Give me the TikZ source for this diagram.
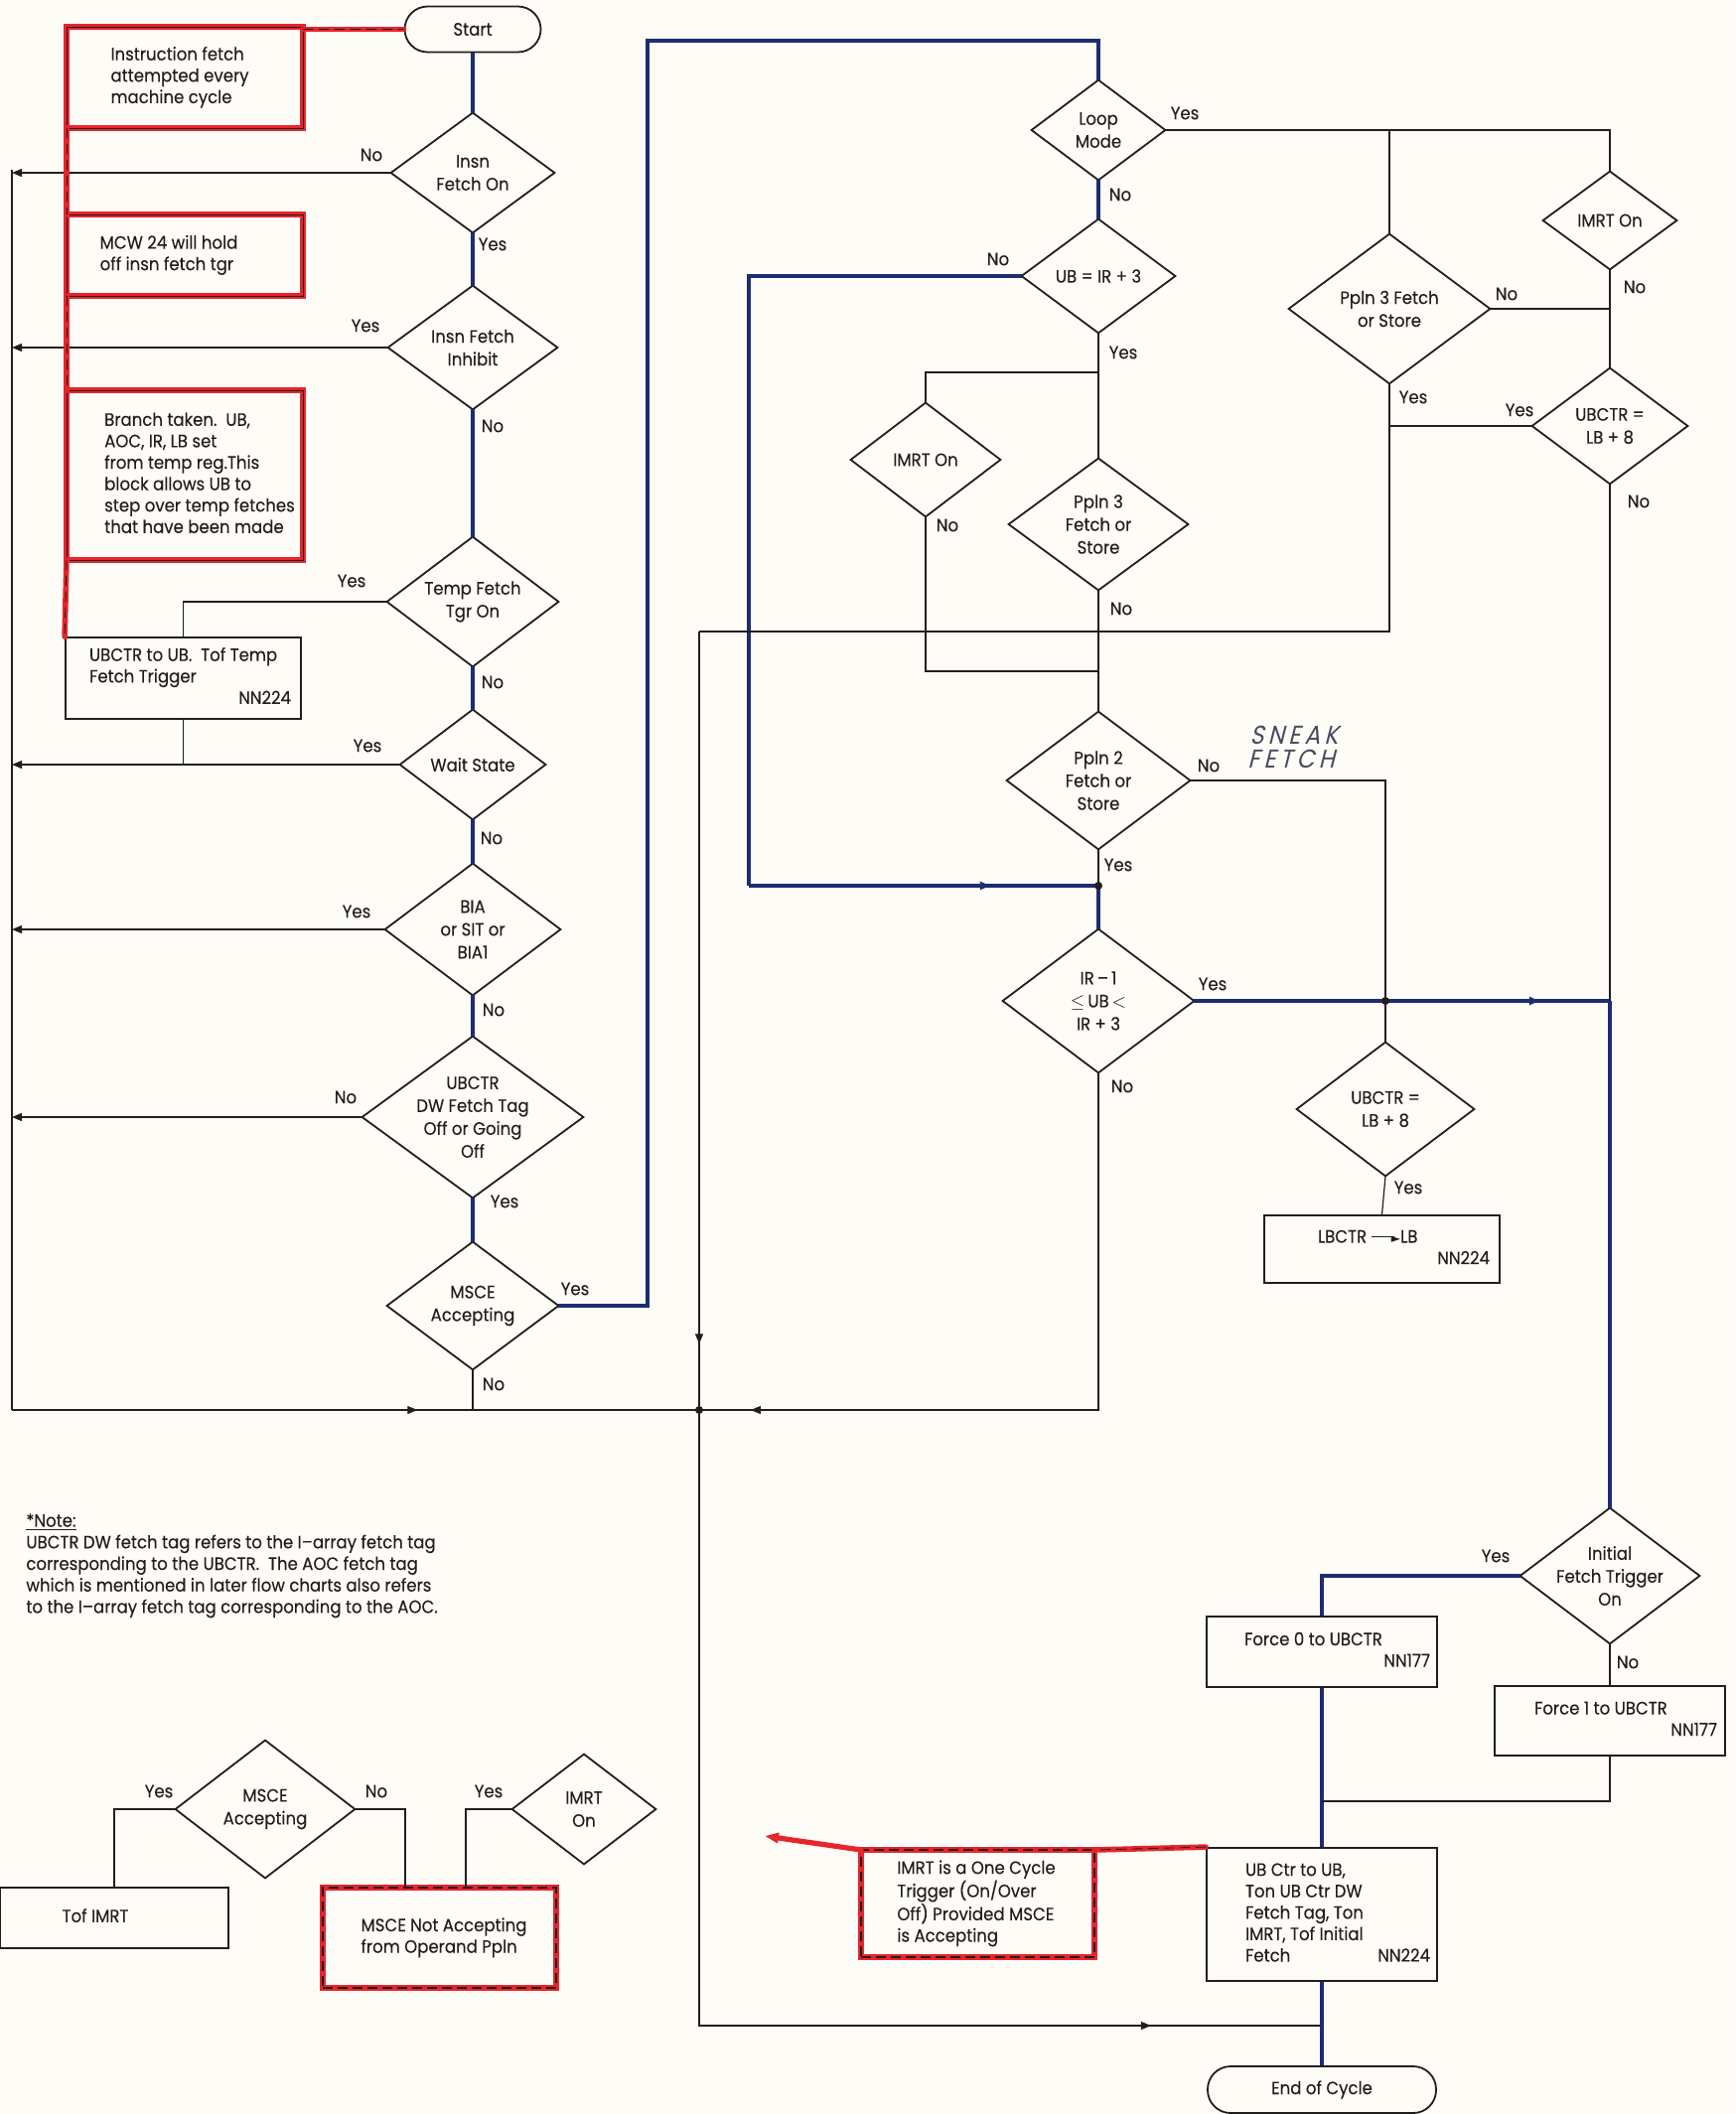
\documentclass[tikz,border=0pt]{standalone}
\usepackage{fontspec}
\setmainfont{Poppins}[FakeStretch=0.92, FakeBold=0.15]
\newfontfamily\symfont{DejaVu Sans}
\newfontfamily\handfont{Poppins}[FakeSlant=0.25, LetterSpace=16, FakeStretch=0.9]
\usetikzlibrary{arrows.meta,decorations.markings}

\definecolor{paper}{RGB}{253,252,246}
\definecolor{ink}{RGB}{34,30,30}
\definecolor{navy}{RGB}{30,44,112}
\definecolor{pencilred}{RGB}{232,36,44}
\definecolor{pencil}{RGB}{72,74,96}

% text block inside a box: shifted left-aligned lines
\newcommand\btxt[2]{\hspace*{#1}\begin{tabular}{@{}l@{}}#2\end{tabular}}
% diamond outline drawn on the anchors of a decision node
\newcommand\dout[1]{\draw[ink, line width=0.9pt, line join=miter] (#1.north) -- (#1.east) -- (#1.south) -- (#1.west) -- cycle;}
\newcommand\toarrow{\rule[0.32em]{1.3em}{0.5pt}\kern-1.5pt{\symfont\fontsize{6}{6}\selectfont ►}}

\tikzset{
  base/.style={font=\fontsize{9}{11.5}\selectfont, text=ink},
  boxfont/.style={font=\fontsize{9}{10.8}\selectfont},
  dia/.style={base, rectangle, inner sep=0pt, align=center},
  box/.style={base, boxfont, draw=ink, line width=0.9pt, rectangle, inner sep=0pt},
  term/.style={box, rounded corners=11.5pt},
  redbox/.style={base, boxfont, rectangle, inner sep=0pt, outer sep=0pt, draw=pencilred, line width=2.8pt,
    postaction={draw=ink, line width=0.45pt}},
  reddash/.style={base, boxfont, rectangle, inner sep=0pt, outer sep=0pt, draw=pencilred, line width=2.8pt,
    postaction={draw=ink, line width=0.55pt, dash pattern=on 5pt off 2.5pt}},
  redline/.style={draw=pencilred, line width=2.8pt, line cap=round,
    postaction={draw=ink, line width=0.45pt, dash pattern=on 5pt off 3pt}},
  redsolid/.style={draw=pencilred, line width=2.6pt, line cap=round},
  flow/.style={draw=ink, line width=0.6pt},
  main/.style={draw=navy, line width=1.6pt},
  lbl/.style={base, inner sep=0pt},
  midarrow/.style={postaction={decorate, decoration={markings,
    mark=at position #1 with {\arrow{Triangle[length=5pt,width=4pt]}}}}},
  hand/.style={inner sep=0pt, text=pencil, font=\handfont\fontsize{13}{13}\selectfont},
}

\begin{document}
\begin{tikzpicture}[x=0.5pt, y=-0.5pt, >={Triangle[length=5pt,width=4pt]}]
\fill[paper] (0,0) rectangle (1747,2129);
\useasboundingbox (0,0) rectangle (1747,2129);

% ---------- terminals ----------
\node[term, minimum width=68.5pt, minimum height=23pt] (start) at (476,29.5) {Start};
\node[term, minimum width=115pt, minimum height=23.5pt] (eoc) at (1331,2104.5) {End of Cycle};

% ---------- left column decisions ----------
\node[dia, minimum width=82pt, minimum height=60pt] (ifo) at (476,174) {Insn\\Fetch On};
\node[dia, minimum width=85pt, minimum height=62pt] (ifi) at (476,350) {Insn Fetch\\Inhibit};
\node[dia, minimum width=86pt, minimum height=65pt] (tft) at (476,606) {Temp Fetch\\Tgr On};
\node[dia, minimum width=73pt, minimum height=55pt] (ws) at (476,770) {Wait State};
\node[dia, minimum width=88pt, minimum height=66pt] (bia) at (476,936) {BIA\\or SIT or\\BIA1};
\node[dia, minimum width=111pt, minimum height=81pt] (dwf) at (476,1125) {UBCTR\\DW Fetch Tag\\Off or Going\\Off};
\node[dia, minimum width=86pt, minimum height=64pt] (msce) at (476,1315) {MSCE\\Accepting};

% ---------- middle column decisions ----------
\node[dia, minimum width=67pt, minimum height=50pt] (loop) at (1106,131) {Loop\\Mode};
\node[dia, minimum width=77pt, minimum height=57pt] (ubir) at (1106,278) {UB = IR + 3};
\node[dia, minimum width=75pt, minimum height=57pt] (imrtm) at (932,463) {IMRT On};
\node[dia, minimum width=90pt, minimum height=66pt] (ppl3m) at (1106,528) {Ppln 3\\Fetch or\\Store};
\node[dia, minimum width=92pt, minimum height=69pt] (ppl2) at (1106,786) {Ppln 2\\Fetch or\\Store};
\node[dia, minimum width=96pt, minimum height=72pt] (irm) at (1106,1008) {IR\,–\,1\\$\leq$\,UB\,$<$\\IR + 3};

% ---------- right column decisions ----------
\node[dia, minimum width=101pt, minimum height=75pt] (ppl3r) at (1399,311) {Ppln 3 Fetch\\or Store};
\node[dia, minimum width=67pt, minimum height=49pt] (imrtr) at (1621,222) {IMRT On};
\node[dia, minimum width=78pt, minimum height=58pt] (ubu) at (1621,429) {UBCTR =\\LB + 8};
\node[dia, minimum width=89pt, minimum height=67pt] (ubl) at (1395,1117) {UBCTR =\\LB + 8};
\node[dia, minimum width=90pt, minimum height=68pt] (ift) at (1621,1587) {Initial\\Fetch Trigger\\On};

% ---------- small key diagram ----------
\node[dia, minimum width=90pt, minimum height=69pt] (smsce) at (267,1822) {MSCE\\Accepting};
\node[dia, minimum width=72pt, minimum height=55pt] (simrt) at (588,1822) {IMRT\\On};

\foreach \n in {ifo,ifi,tft,ws,bia,dwf,msce,loop,ubir,imrtm,ppl3m,ppl2,irm,ppl3r,imrtr,ubu,ubl,ift,smsce,simrt}
  {\dout{\n}}

% ---------- process boxes ----------
\node[box, minimum width=118.5pt, minimum height=41pt] (ubx) at (184.5,683)
  {\btxt{7pt}{UBCTR to UB.\ \ Tof Temp\\Fetch Trigger\\\makebox[101.5pt][r]{NN224}}};
\node[box, minimum width=118.5pt, minimum height=34pt] (lbx) at (1391.5,1258)
  {\btxt{22pt}{LBCTR \toarrow LB\\\makebox[86.5pt][r]{NN224}}};
\node[box, minimum width=116pt, minimum height=35.5pt] (f0) at (1331,1663.5)
  {\btxt{15.5pt}{Force 0 to UBCTR\\\makebox[93.5pt][r]{NN177}}};
\node[box, minimum width=116pt, minimum height=35pt] (f1) at (1621,1733)
  {\btxt{16pt}{Force 1 to UBCTR\\\makebox[92pt][r]{NN177}}};
\node[box, minimum width=116pt, minimum height=67pt] (ubc) at (1331,1928)
  {\btxt{16pt}{UB Ctr to UB,\\Ton UB Ctr DW\\Fetch Tag, Ton\\IMRT, Tof Initial\\\makebox[93pt]{Fetch\hfill NN224}}};
\node[box, minimum width=115pt, minimum height=30.5pt] (tof) at (115,1931.5)
  {\btxt{-19pt}{Tof IMRT}};

% ---------- annotation boxes ----------
\node[redbox, minimum width=119pt, minimum height=51pt] (ifbox) at (186,78)
  {\btxt{-5pt}{Instruction fetch\\attempted every\\machine cycle}};
\node[redbox, minimum width=119pt, minimum height=41pt] (mcwbox) at (186,257)
  {\btxt{-16pt}{MCW 24 will hold\\off insn fetch tgr}};
\node[redbox, minimum width=119pt, minimum height=85.5pt] (brbox) at (186,478.5)
  {\btxt{15pt}{Branch taken.\ \ UB,\\AOC, IR, LB set\\from temp reg.This\\block allows UB to\\step over temp fetches\\that have been made}};
\node[reddash, minimum width=117.5pt, minimum height=54pt] (imrtbox) at (984.5,1917)
  {\btxt{-1.5pt}{IMRT is a One Cycle\\Trigger (On/Over\\Off) Provided MSCE\\is Accepting}};
\node[reddash, minimum width=117.5pt, minimum height=50.5pt] (msna) at (442.5,1951.5)
  {\btxt{4.5pt}{MSCE Not Accepting\\from Operand Ppln}};

% ---------- junctions and bends ----------
\coordinate (busT) at (12,171);
\coordinate (busB) at (12,1420);
\coordinate (jA) at (704,1420);
\coordinate (c1) at (652,41);
\coordinate (c2) at (754,892);
\coordinate (j1) at (1106,892);
\coordinate (j2) at (1106,375);
\coordinate (j3) at (1106,676);
\coordinate (c3) at (704,636);
\coordinate (j4) at (1395,1008);
\coordinate (c4) at (1621,1008);
\coordinate (j5) at (1331,2040);
\coordinate (j6) at (1399,131);
\coordinate (j7) at (1331,1814);
\coordinate (c5) at (408,1901);
\coordinate (c6) at (469,1901);
\coordinate (rtip) at (770,1849);

% ---------- left column flow ----------
\draw[main] (start.south) -- (ifo.north);
\draw[main] (ifo.south) -- (ifi.north);
\draw[main] (ifi.south) -- (tft.north);
\draw[main] (tft.south) -- (ws.north);
\draw[main] (ws.south) -- (bia.north);
\draw[main] (bia.south) -- (dwf.north);
\draw[main] (dwf.south) -- (msce.north);
\draw[flow] (msce.south) -- (msce.south |- jA);

\draw[flow] (busT) -- (busB);
\draw[flow, midarrow=0.59] (busB) -- (jA);
\draw[flow,->] (ifo.west) -- (ifo.west -| busT);
\draw[flow,->] (ifi.west) -- (ifi.west -| busT);
\draw[flow] (tft.west) -| (ubx.north);
\draw[flow] (ubx.south) -- (ubx.south |- ws.west);
\draw[flow,->] (ws.west) -- (ws.west -| busT);
\draw[flow,->] (bia.west) -- (bia.west -| busT);
\draw[flow,->] (dwf.west) -- (dwf.west -| busT);

% ---------- middle flow ----------
\draw[main] (msce.east) -| (c1) -| (loop.north);
\draw[main] (loop.south) -- (ubir.north);
\draw[main] (ubir.west) -| (c2);
\draw[main, midarrow=0.69] (c2) -- (j1);
\draw[main] (j1) -- (irm.north);
\draw[flow] (ppl2.south) -- (j1);
\draw[flow] (ubir.south) -- (ppl3m.north);
\draw[flow] (j2) -| (imrtm.north);
\draw[flow] (imrtm.south) |- (j3);
\draw[flow] (ppl3m.south) -- (ppl2.north);
\draw[flow] (ppl3r.south) |- (c3);
\draw[flow, midarrow=0.915] (c3) -- (jA);
\draw[flow, midarrow=0.93] (irm.south) |- (jA);
\draw[flow, midarrow=0.862] (jA) |- (j5);
\draw[flow] (ppl2.east) -| (j4);
\draw[flow] (j4) -- (ubl.north);
\draw[flow] (ubl.south) -- (lbx.north);
\draw[main, midarrow=0.83] (irm.east) -- (c4);
\draw[main] (c4) -- (ift.north);

% ---------- right flow ----------
\draw[flow] (loop.east) -| (imrtr.north);
\draw[flow] (j6) -- (ppl3r.north);
\draw[flow] (imrtr.south) -- (ubu.north);
\draw[flow] (ppl3r.east) -- (ppl3r.east -| ubu.north);
\draw[flow] (ubu.west) -- (ubu.west -| ppl3r.south);
\draw[flow] (ubu.south) -- (c4);
\draw[main] (ift.west) -| (f0.north);
\draw[flow] (ift.south) -- (f1.north);
\draw[main] (f0.south) -- (ubc.north);
\draw[flow] (f1.south) |- (j7);
\draw[main] (ubc.south) -- (eoc.north);

\foreach \p in {jA,j1,j4} {\fill[ink] (\p) circle[radius=2pt];}

% ---------- small key diagram flow ----------
\draw[flow] (smsce.west) -| (tof.north);
\draw[flow] (smsce.east) -| (c5);
\draw[flow] (simrt.west) -| (c6);

% ---------- red annotation links ----------
\draw[redline] (ifbox.north east |- start.west) -- (start.west);
\draw[redline] (ifbox.south west) -- (mcwbox.north west);
\draw[redline] (mcwbox.south west) -- (brbox.north west);
\draw[redline] (brbox.south west) -- (ubx.north west);
\draw[redline] (ubc.north west) -- (imrtbox.north east);
\draw[redsolid, -{Triangle[length=7pt,width=5pt]}] (imrtbox.north west) -- (rtip);

% ---------- branch labels ----------
\node[lbl] (l01) at (374,156) {No};
\node[lbl] (l02) at (496,246) {Yes};
\node[lbl] (l03) at (368,328) {Yes};
\node[lbl] (l04) at (496,429) {No};
\node[lbl] (l05) at (354,585) {Yes};
\node[lbl] (l06) at (496,687) {No};
\node[lbl] (l07) at (370,751) {Yes};
\node[lbl] (l08) at (495,844) {No};
\node[lbl] (l09) at (359,918) {Yes};
\node[lbl] (l10) at (497,1017) {No};
\node[lbl] (l11) at (348,1105) {No};
\node[lbl] (l12) at (508,1210) {Yes};
\node[lbl] (l13) at (579,1298) {Yes};
\node[lbl] (l14) at (497,1394) {No};
\node[lbl] (l15) at (1193,114) {Yes};
\node[lbl] (l16) at (1128,196) {No};
\node[lbl] (l17) at (1005,261) {No};
\node[lbl] (l18) at (1131,355) {Yes};
\node[lbl] (l19) at (954,529) {No};
\node[lbl] (l20) at (1129,613) {No};
\node[lbl] (l21) at (1217,771) {No};
\node[lbl] (l22) at (1126,871) {Yes};
\node[lbl] (l23) at (1221,991) {Yes};
\node[lbl] (l24) at (1130,1094) {No};
\node[lbl] (l25) at (1517,296) {No};
\node[lbl] (l26) at (1646,289) {No};
\node[lbl] (l27) at (1530,413) {Yes};
\node[lbl] (l28) at (1423,400) {Yes};
\node[lbl] (l29) at (1650,505) {No};
\node[lbl] (l30) at (1418,1196) {Yes};
\node[lbl] (l31) at (1506,1567) {Yes};
\node[lbl] (l32) at (1639,1674) {No};
\node[lbl] (l33) at (160,1804) {Yes};
\node[lbl] (l34) at (379,1804) {No};
\node[lbl] (l35) at (492,1804) {Yes};

% ---------- pencilled remark ----------
\node[hand] (sneak) at (1303,740) {SNEAK};
\node[hand] (sneakb) at (1300,764) {FETCH};

% ---------- note ----------
\node[base, anchor=north west, align=left, inner sep=0pt, font=\fontsize{9}{10.85}\selectfont] (note) at (26,1524)
  {\underline{*Note:}\\
   UBCTR DW fetch tag refers to the I–array fetch tag\\
   corresponding to the UBCTR.\ \ The AOC fetch tag\\
   which is mentioned in later flow charts also refers\\
   to the I–array fetch tag corresponding to the AOC.};
\end{tikzpicture}
\end{document}
